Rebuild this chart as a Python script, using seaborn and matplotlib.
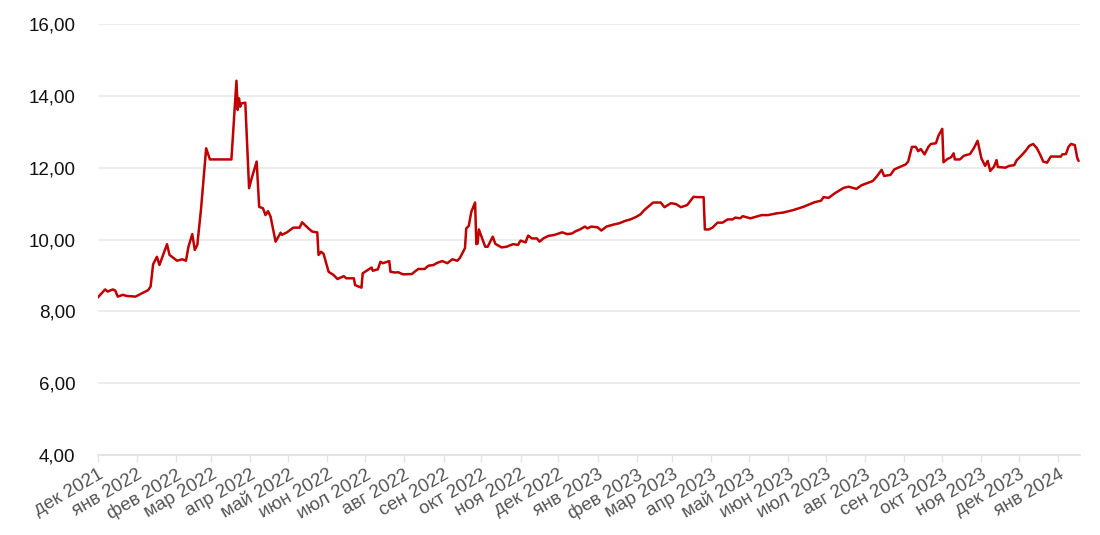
import pandas as pd
import matplotlib.pyplot as plt
import seaborn as sns

# Data (vertices of the line)
dates = [
    "2021-12-01", "2021-12-07", "2021-12-09", "2021-12-13", "2021-12-15", "2021-12-17",
    "2021-12-21", "2021-12-24", "2021-12-31", "2022-01-05", "2022-01-10", "2022-01-12",
    "2022-01-14", "2022-01-17", "2022-01-19", "2022-01-25", "2022-01-27", "2022-02-02",
    "2022-02-06", "2022-02-09", "2022-02-11", "2022-02-14", "2022-02-16", "2022-02-18",
    "2022-02-21", "2022-02-25", "2022-02-28", "2022-03-17", "2022-03-21", "2022-03-22",
    "2022-03-23", "2022-03-24", "2022-03-25", "2022-03-28", "2022-03-31", "2022-04-02",
    "2022-04-06", "2022-04-08", "2022-04-11", "2022-04-13", "2022-04-15", "2022-04-17",
    "2022-04-21", "2022-04-25", "2022-04-26", "2022-04-30", "2022-05-05", "2022-05-10",
    "2022-05-12", "2022-05-17", "2022-05-20", "2022-05-24", "2022-05-25", "2022-05-27",
    "2022-05-29", "2022-06-02", "2022-06-06", "2022-06-09", "2022-06-14", "2022-06-16",
    "2022-06-22", "2022-06-23", "2022-06-28", "2022-06-29", "2022-07-03", "2022-07-06",
    "2022-07-07", "2022-07-11", "2022-07-13", "2022-07-15", "2022-07-20", "2022-07-21",
    "2022-07-25", "2022-07-27", "2022-07-31", "2022-08-07", "2022-08-09", "2022-08-12",
    "2022-08-17", "2022-08-20", "2022-08-24", "2022-08-27", "2022-08-31", "2022-09-04",
    "2022-09-08", "2022-09-12", "2022-09-14", "2022-09-18", "2022-09-19", "2022-09-21",
    "2022-09-23", "2022-09-26", "2022-09-27", "2022-09-28", "2022-09-29", "2022-10-04",
    "2022-10-06", "2022-10-10", "2022-10-12", "2022-10-17", "2022-10-21", "2022-10-26",
    "2022-10-30", "2022-11-01", "2022-11-05", "2022-11-07", "2022-11-10", "2022-11-14",
    "2022-11-16", "2022-11-19", "2022-11-23", "2022-11-28", "2022-12-04", "2022-12-08",
    "2022-12-12", "2022-12-14", "2022-12-18", "2022-12-22", "2022-12-24", "2022-12-27",
    "2023-01-01", "2023-01-04", "2023-01-08", "2023-01-14", "2023-01-18", "2023-01-23",
    "2023-01-27", "2023-01-31", "2023-02-04", "2023-02-07", "2023-02-10", "2023-02-14",
    "2023-02-20", "2023-02-23", "2023-02-28", "2023-03-04", "2023-03-08", "2023-03-13",
    "2023-03-15", "2023-03-18", "2023-03-21", "2023-03-26", "2023-03-27", "2023-03-30",
    "2023-04-02", "2023-04-06", "2023-04-10", "2023-04-14", "2023-04-18", "2023-04-20",
    "2023-04-24", "2023-04-26", "2023-05-02", "2023-05-11", "2023-05-16", "2023-05-23",
    "2023-05-28", "2023-06-05", "2023-06-13", "2023-06-22", "2023-06-27", "2023-06-29",
    "2023-07-03", "2023-07-08", "2023-07-15", "2023-07-19", "2023-07-25", "2023-07-29",
    "2023-08-04", "2023-08-07", "2023-08-10", "2023-08-14", "2023-08-16", "2023-08-21",
    "2023-08-24", "2023-08-29", "2023-09-02", "2023-09-04", "2023-09-07", "2023-09-10",
    "2023-09-12", "2023-09-14", "2023-09-17", "2023-09-20", "2023-09-22", "2023-09-26",
    "2023-09-28", "2023-10-01", "2023-10-02", "2023-10-05", "2023-10-08", "2023-10-10",
    "2023-10-11", "2023-10-15", "2023-10-18", "2023-10-23", "2023-10-26", "2023-10-29",
    "2023-11-01", "2023-11-04", "2023-11-06", "2023-11-08", "2023-11-11", "2023-11-13",
    "2023-11-14", "2023-11-20", "2023-11-23", "2023-11-27", "2023-11-29", "2023-12-03",
    "2023-12-06", "2023-12-09", "2023-12-12", "2023-12-15", "2023-12-18", "2023-12-20",
    "2023-12-23", "2023-12-26", "2024-01-03", "2024-01-04", "2024-01-07", "2024-01-09",
    "2024-01-11", "2024-01-14", "2024-01-16", "2024-01-17",
]
values = [
    8.38, 8.61, 8.55, 8.61, 8.58, 8.41,
    8.46, 8.43, 8.41, 8.50, 8.59, 8.69,
    9.31, 9.52, 9.29, 9.87, 9.57, 9.41,
    9.45, 9.41, 9.80, 10.15, 9.71, 9.85,
    10.87, 12.54, 12.23, 12.23, 14.42, 13.61,
    13.93, 13.70, 13.79, 13.81, 11.43, 11.70,
    12.17, 10.91, 10.87, 10.68, 10.79, 10.64,
    9.94, 10.19, 10.13, 10.20, 10.33, 10.33,
    10.48, 10.31, 10.22, 10.20, 9.57, 9.66,
    9.60, 9.10, 9.01, 8.90, 8.98, 8.92,
    8.92, 8.73, 8.66, 9.06, 9.15, 9.22,
    9.13, 9.17, 9.38, 9.34, 9.40, 9.10,
    9.08, 9.09, 9.03, 9.04, 9.10, 9.18,
    9.18, 9.27, 9.29, 9.35, 9.40, 9.34,
    9.45, 9.41, 9.49, 9.76, 10.31, 10.38,
    10.77, 11.03, 9.87, 9.89, 10.28, 9.80,
    9.80, 10.08, 9.88, 9.78, 9.80, 9.87,
    9.85, 9.97, 9.92, 10.11, 10.03, 10.03,
    9.94, 10.03, 10.10, 10.13, 10.20, 10.15,
    10.17, 10.22, 10.28, 10.36, 10.31, 10.36,
    10.34, 10.25, 10.36, 10.42, 10.45, 10.52,
    10.56, 10.62, 10.70, 10.82, 10.91, 11.03,
    11.03, 10.90, 11.01, 10.99, 10.90, 10.96,
    11.05, 11.19, 11.18, 11.18, 10.28, 10.28,
    10.33, 10.47, 10.47, 10.56, 10.56, 10.61,
    10.59, 10.65, 10.59, 10.68, 10.68, 10.73,
    10.75, 10.82, 10.91, 11.04, 11.08, 11.18,
    11.16, 11.29, 11.44, 11.47, 11.41, 11.51,
    11.59, 11.63, 11.75, 11.94, 11.77, 11.80,
    11.95, 12.03, 12.09, 12.17, 12.58, 12.58,
    12.46, 12.52, 12.37, 12.58, 12.66, 12.68,
    12.89, 13.08, 12.15, 12.24, 12.29, 12.40,
    12.23, 12.23, 12.33, 12.38, 12.54, 12.75,
    12.26, 12.05, 12.19, 11.91, 12.03, 12.21,
    12.02, 12.00, 12.05, 12.07, 12.21, 12.35,
    12.47, 12.61, 12.66, 12.54, 12.33, 12.17,
    12.14, 12.31, 12.31, 12.37, 12.38, 12.58,
    12.66, 12.63, 12.26, 12.19,
]
month_names = ["янв", "фев", "мар", "апр", "май", "июн",
               "июл", "авг", "сен", "окт", "ноя", "дек"]
y_ticks = [4, 6, 8, 10, 12, 14, 16]

df = pd.DataFrame({"date": pd.to_datetime(dates), "value": values})
month_ticks = pd.date_range("2021-12-01", "2024-01-01", freq="MS")
month_labels = [f"{month_names[d.month - 1]} {d.year}" for d in month_ticks]

sns.set_theme(style="white")
plt.rcParams["font.family"] = ["Liberation Sans", "DejaVu Sans"]

fig = plt.figure(figsize=(11, 5.35), dpi=100)
ax = fig.add_axes([0.0887, 0.1495, 0.893, 0.8056])

sns.lineplot(data=df, x="date", y="value", color="#c00000", linewidth=1.8, ax=ax)

ax.set_ylim(4, 16)
ax.set_xlim(pd.Timestamp("2021-12-01"), pd.Timestamp("2024-01-18"))
ax.set_yticks(y_ticks)
ax.set_yticklabels([f"{v:.2f}".replace(".", ",") for v in y_ticks], fontsize=13.5, color="#111111")
ax.set_xticks(month_ticks)
ax.set_xticklabels(month_labels, rotation=30, ha="right", rotation_mode="anchor",
                   fontsize=13.5, color="#555555")
ax.set_xlabel("")
ax.set_ylabel("")

ax.grid(axis="y", color="#ebebeb", linewidth=1.3)
ax.grid(axis="x", visible=False)
for side in ["top", "right", "left"]:
    ax.spines[side].set_visible(False)
ax.spines["bottom"].set_color("#e3e3e3")
ax.spines["bottom"].set_linewidth(1.3)
ax.tick_params(axis="x", length=5, width=1, color="#e3e3e3", pad=3, bottom=True)
ax.tick_params(axis="y", length=0, pad=16)

fig.savefig("out.png", dpi=100)
